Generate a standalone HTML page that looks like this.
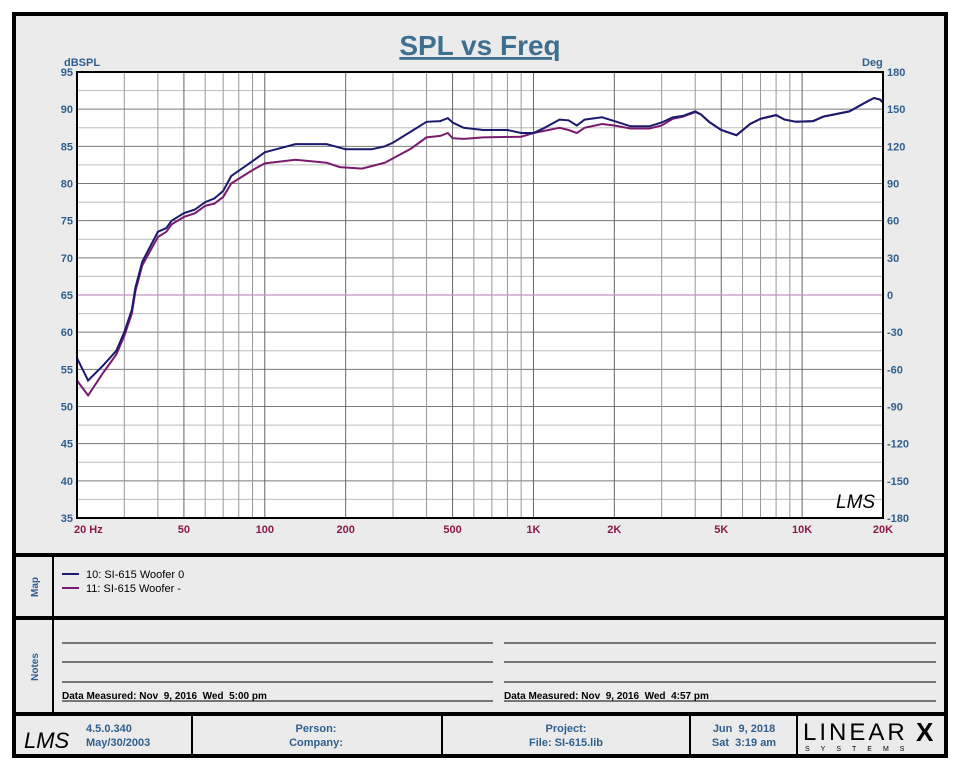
<!DOCTYPE html>
<html><head><meta charset="utf-8"><style>
body{margin:0;background:#fff;width:960px;height:768px;overflow:hidden;font-family:"Liberation Sans",Arial,sans-serif}
svg text{font-family:"Liberation Sans",Arial,sans-serif}
</style></head><body>
<svg id="s" width="960" height="768" xmlns="http://www.w3.org/2000/svg">
<rect x="14" y="14" width="932" height="742" fill="#ebebeb" stroke="#000" stroke-width="4"/>
<text x="480" y="55" text-anchor="middle" font-size="28" font-weight="bold" fill="#3f6f8f" text-decoration="underline">SPL vs Freq</text>
<rect x="77" y="72" width="806" height="446" fill="#fff"/>
<g id="grid"></g>
<line x1="77" y1="295" x2="883" y2="295" stroke="#c890c8" stroke-width="1.2"/>
<polyline id="p2" fill="none" stroke="#7a1a6e" stroke-width="2"/>
<polyline id="p1" fill="none" stroke="#1a1a6e" stroke-width="2"/>
<rect x="77" y="72" width="806" height="446" fill="none" stroke="#000" stroke-width="2"/>
<text x="64" y="66" font-size="11" font-weight="bold" fill="#2f5f8f">dBSPL</text>
<text x="862" y="66" font-size="11" font-weight="bold" fill="#2f5f8f">Deg</text>
<text x="836" y="508" font-size="19" font-style="italic" fill="#000" font-family="Liberation Serif">LMS</text>
<g id="lbl" font-size="11" font-weight="bold"></g>
<line x1="14" y1="555" x2="946" y2="555" stroke="#000" stroke-width="4"/>
<line x1="14" y1="618" x2="946" y2="618" stroke="#000" stroke-width="4"/>
<line x1="14" y1="714" x2="946" y2="714" stroke="#000" stroke-width="4"/>
<line x1="53" y1="555" x2="53" y2="714" stroke="#000" stroke-width="2"/>
<text transform="translate(38,587) rotate(-90)" text-anchor="middle" font-size="10" font-weight="bold" fill="#2f5f8f">Map</text>
<text transform="translate(38,667) rotate(-90)" text-anchor="middle" font-size="10" font-weight="bold" fill="#2f5f8f">Notes</text>
<line x1="62" y1="574" x2="79" y2="574" stroke="#1a1a6e" stroke-width="2"/>
<line x1="62" y1="588" x2="79" y2="588" stroke="#7a1a6e" stroke-width="2"/>
<text x="86" y="578" font-size="11" fill="#000">10: SI-615 Woofer 0</text>
<text x="86" y="592" font-size="11" fill="#000">11: SI-615 Woofer -</text>
<g stroke="#000" stroke-width="1">
<line x1="62" y1="643" x2="493" y2="643"/><line x1="62" y1="662" x2="493" y2="662"/><line x1="62" y1="682" x2="493" y2="682"/><line x1="62" y1="701" x2="493" y2="701"/>
<line x1="504" y1="643" x2="936" y2="643"/><line x1="504" y1="662" x2="936" y2="662"/><line x1="504" y1="682" x2="936" y2="682"/><line x1="504" y1="701" x2="936" y2="701"/>
</g>
<text x="62" y="699" font-size="10" font-weight="bold" fill="#000" xml:space="preserve">Data Measured: Nov  9, 2016  Wed  5:00 pm</text>
<text x="504" y="699" font-size="10" font-weight="bold" fill="#000" xml:space="preserve">Data Measured: Nov  9, 2016  Wed  4:57 pm</text>
<g stroke="#000" stroke-width="2"><line x1="192" y1="714" x2="192" y2="756"/><line x1="442" y1="714" x2="442" y2="756"/><line x1="690" y1="714" x2="690" y2="756"/><line x1="797" y1="714" x2="797" y2="756"/></g>
<text x="24" y="748" font-size="22" font-style="italic" font-family="Liberation Serif" fill="#000">LMS</text>
<g font-size="11" font-weight="bold" fill="#2f5f8f">
<text x="86" y="732">4.5.0.340</text><text x="86" y="746">May/30/2003</text>
<text x="316" y="732" text-anchor="middle">Person:</text><text x="316" y="746" text-anchor="middle">Company:</text>
<text x="566" y="732" text-anchor="middle">Project:</text><text x="566" y="746" text-anchor="middle">File: SI-615.lib</text>
<text x="744" y="732" text-anchor="middle" xml:space="preserve">Jun  9, 2018</text><text x="744" y="746" text-anchor="middle" xml:space="preserve">Sat  3:19 am</text>
</g>
<text x="803" y="740" font-size="24" font-family="Liberation Serif" letter-spacing="3" fill="#000">LINEAR</text>
<text x="916" y="741" font-size="26" font-weight="bold" fill="#000">X</text>
<text x="805" y="751" font-size="7" letter-spacing="11" fill="#000">SYSTEMS</text>
</svg>
<script>
var NS="http://www.w3.org/2000/svg",X0=77,X1=883,Y0=72,Y1=518;
function fx(f){return X0+(Math.log10(f)-Math.log10(20))/3*(X1-X0);}
function fy(d){return Y1-(d-35)/60*(Y1-Y0);}
function el(t,a,p){var e=document.createElementNS(NS,t);for(var k in a)e.setAttribute(k,a[k]);p.appendChild(e);return e;}
var g=document.getElementById('grid');
for(var d=37.5;d<95;d+=2.5){var maj=(d%5==0);el('line',{x1:X0,x2:X1,y1:fy(d),y2:fy(d),stroke:maj?'#7a7a7a':'#bdbdbd','stroke-width':1},g);}
[10,100,1000,10000].forEach(function(dec){for(var m=1;m<10;m++){var f=dec*m;if(f<=20||f>=20000)continue;el('line',{x1:fx(f),x2:fx(f),y1:Y0,y2:Y1,stroke:(m==1||m==2||m==5)?'#666':'#999','stroke-width':1},g);}});
var L=document.getElementById('lbl');
for(var i=0;i<=12;i++){var d=35+5*i,y=fy(d);
 var t=el('text',{x:73,y:y+4,'text-anchor':'end',fill:'#2f5f8f'},L);t.textContent=d;
 var t2=el('text',{x:887,y:y+4,fill:'#2f5f8f'},L);t2.textContent=(-180+30*i);}
[[20,'20  Hz'],[50,'50'],[100,'100'],[200,'200'],[500,'500'],[1000,'1K'],[2000,'2K'],[5000,'5K'],[10000,'10K'],[20000,'20K']].forEach(function(a){
 var t=el('text',{x:a[0]==20?74:fx(a[0]),y:533,'text-anchor':a[0]==20?'start':'middle',fill:'#8b1a4a'},L);t.textContent=a[1];});
var b=[[20,56.5],[22,53.5],[25,55.5],[28,57.5],[30,60],[32,63],[33,66],[35,69.5],[40,73.5],[43,74],[45,75],[50,76],[55,76.5],[60,77.5],[65,78],[70,79],[75,81],[90,83],[100,84.2],[110,84.6],[130,85.3],[170,85.3],[200,84.6],[250,84.6],[280,85],[300,85.5],[350,87],[400,88.3],[450,88.4],[480,88.8],[500,88.2],[550,87.5],[650,87.2],[800,87.2],[900,86.8],[1000,86.8],[1100,87.5],[1250,88.6],[1350,88.5],[1450,87.8],[1550,88.6],[1800,88.9],[2000,88.4],[2300,87.7],[2700,87.7],[3000,88.2],[3300,88.9],[3600,89.1],[4000,89.7],[4200,89.3],[4500,88.3],[5000,87.2],[5700,86.5],[6400,88],[7000,88.7],[8000,89.2],[8600,88.6],[9500,88.3],[11000,88.4],[12000,89],[15000,89.7],[17000,90.8],[18500,91.5],[19500,91.3],[20000,90.9]];
var p=[[20,53.5],[22,51.5],[25,54.5],[28,57],[30,59.5],[32,62.5],[33,65.5],[35,69],[40,72.8],[43,73.5],[45,74.5],[50,75.5],[55,76],[60,77],[65,77.3],[70,78.2],[75,80],[90,81.8],[100,82.7],[130,83.2],[170,82.8],[190,82.2],[230,82],[280,82.8],[350,84.7],[400,86.2],[450,86.4],[480,86.8],[500,86.1],[550,86],[650,86.2],[900,86.3],[1000,86.8],[1250,87.5],[1350,87.2],[1450,86.8],[1550,87.5],[1800,88],[2000,87.8],[2300,87.4],[2700,87.4],[3000,87.8],[3300,88.7],[3600,89],[4000,89.6]].concat(b.filter(function(q){return q[0]>4000;}));
function pts(a){return a.map(function(q){return fx(q[0]).toFixed(1)+','+fy(q[1]).toFixed(1);}).join(' ');}
document.getElementById('p1').setAttribute('points',pts(b));
document.getElementById('p2').setAttribute('points',pts(p));
</script>
</body></html>
